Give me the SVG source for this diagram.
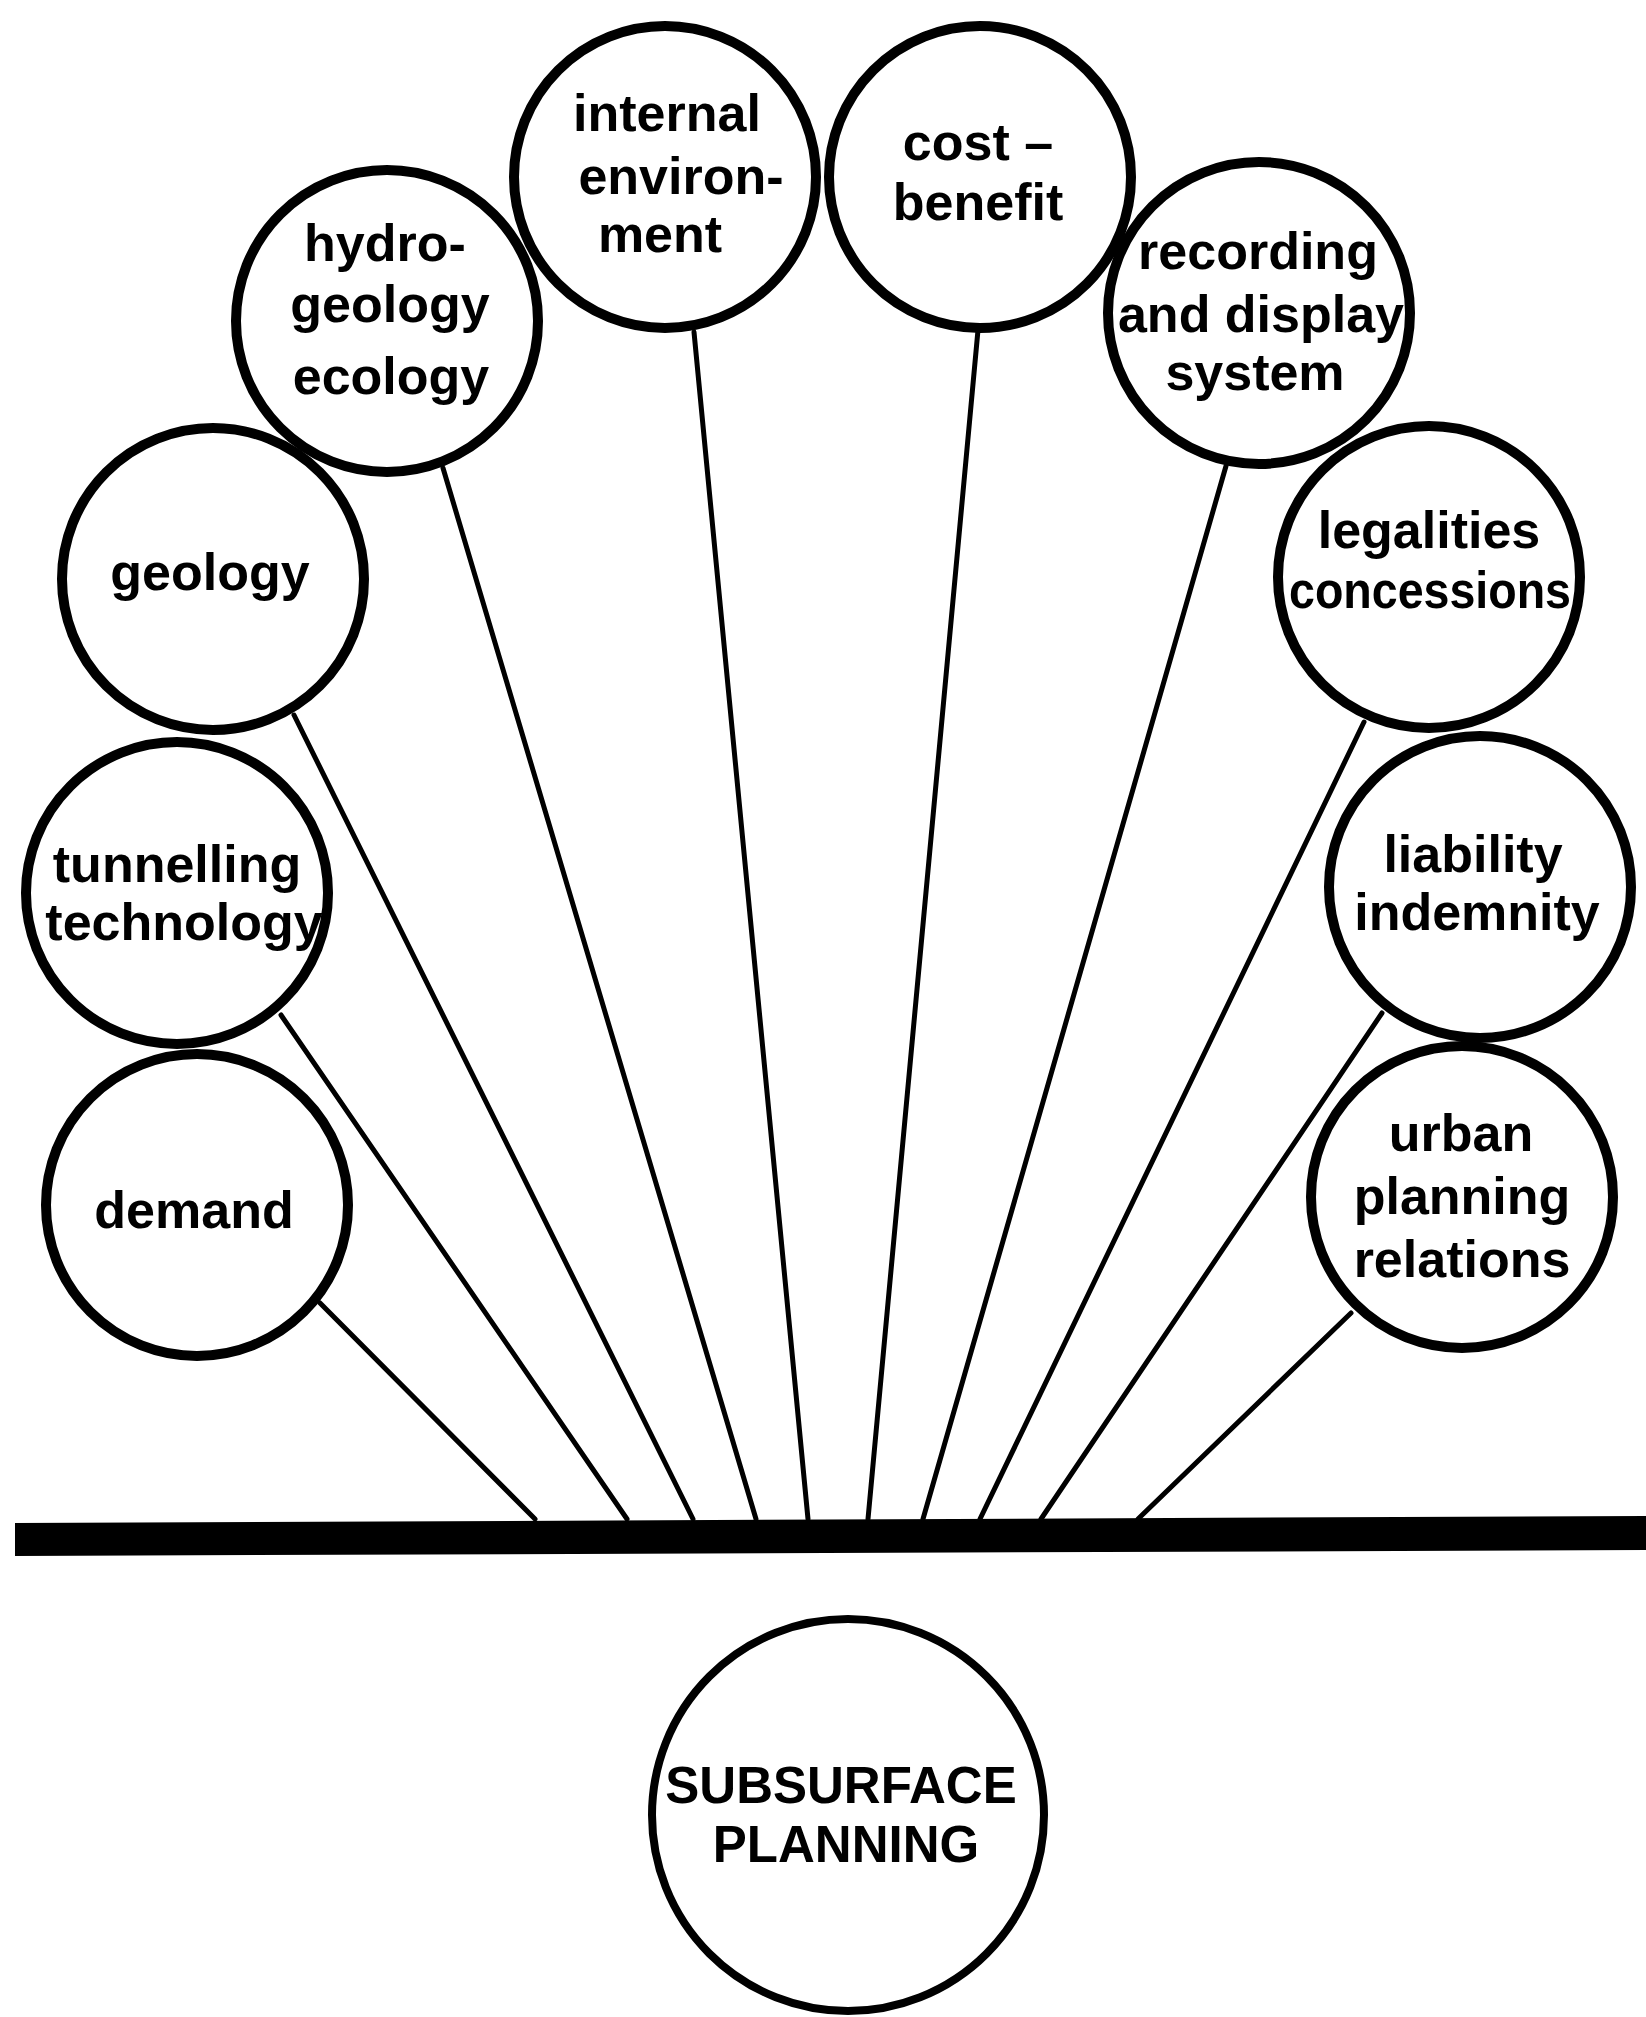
<svg xmlns="http://www.w3.org/2000/svg" width="1646" height="2017" viewBox="0 0 1646 2017">
<style>
.n{fill:#fff;stroke:#000;stroke-width:10}
.t{font-family:"Liberation Sans",Arial,sans-serif;font-weight:bold;font-size:52px;fill:#000;text-anchor:middle}
.c line{stroke:#000;stroke-width:5;stroke-linecap:round}
</style>
<rect width="1646" height="2017" fill="#fff"/>
<g class="c" id="connectors">
<line x1="320" y1="1303" x2="535" y2="1519"/>
<line x1="281" y1="1015" x2="627" y2="1519"/>
<line x1="294" y1="715" x2="693" y2="1519"/>
<line x1="443" y1="468" x2="756" y2="1519"/>
<line x1="694" y1="332" x2="808" y2="1519"/>
<line x1="978" y1="330" x2="868" y2="1519"/>
<line x1="1226" y1="466" x2="923" y2="1519"/>
<line x1="1364" y1="722" x2="980" y2="1519"/>
<line x1="1382" y1="1013" x2="1041" y2="1519"/>
<line x1="1351" y1="1313" x2="1138" y2="1519"/>
</g>
<polygon id="ground" points="15,1523 1646,1516 1646,1550 15,1556" fill="#000"/>
<g id="demand"><circle class="n" cx="197" cy="1205" r="151"/><text class="t" x="194" y="1228">demand</text></g>
<g id="tunnelling"><circle class="n" cx="177" cy="893" r="151"/><text class="t" x="177" y="882">tunnelling</text><text class="t" x="184" y="940">technology</text></g>
<g id="geology"><circle class="n" cx="213" cy="579" r="151"/><text class="t" x="210" y="590">geology</text></g>
<g id="hydro"><circle class="n" cx="387" cy="321" r="151"/><text class="t" x="385" y="261">hydro-</text><text class="t" x="390" y="322">geology</text><text class="t" x="391" y="394">ecology</text></g>
<g id="internal"><circle class="n" cx="665" cy="177" r="151"/><text class="t" x="667" y="131">internal</text><text class="t" x="681" y="194">environ-</text><text class="t" x="660" y="252">ment</text></g>
<g id="cost"><circle class="n" cx="980" cy="177" r="151"/><text class="t" x="978" y="160">cost –</text><text class="t" x="978" y="220">benefit</text></g>
<g id="recording"><circle class="n" cx="1259" cy="313" r="151"/><text class="t" x="1258" y="269">recording</text><text class="t" x="1261" y="332">and display</text><text class="t" x="1255" y="390">system</text></g>
<g id="legalities"><circle class="n" cx="1429" cy="577" r="151"/><text class="t" x="1429" y="548">legalities</text><text class="t" x="1430" y="608" textLength="282" lengthAdjust="spacingAndGlyphs">concessions</text></g>
<g id="liability"><circle class="n" cx="1480" cy="887" r="151"/><text class="t" x="1473" y="872">liability</text><text class="t" x="1477" y="930">indemnity</text></g>
<g id="urban"><circle class="n" cx="1462" cy="1197" r="151"/><text class="t" x="1461" y="1151">urban</text><text class="t" x="1462" y="1214">planning</text><text class="t" x="1462" y="1277">relations</text></g>
<g id="subsurface"><circle class="n" cx="848" cy="1815" r="196" style="stroke-width:8"/><text class="t" x="841" y="1803" style="font-size:51px">SUBSURFACE</text><text class="t" x="846" y="1862" style="font-size:51px">PLANNING</text></g>
</svg>
